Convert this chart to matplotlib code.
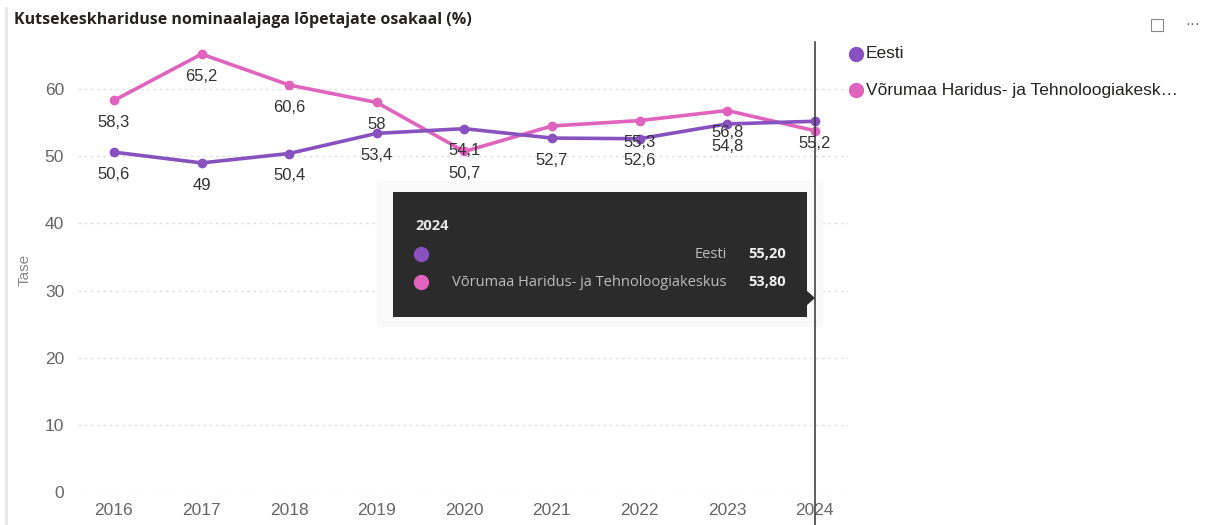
import matplotlib
matplotlib.use("Agg")
import matplotlib.pyplot as plt
from matplotlib.patches import FancyBboxPatch, Polygon, Rectangle
from matplotlib.lines import Line2D

years = ["2016", "2017", "2018", "2019", "2020", "2021", "2022", "2023", "2024"]
eesti = [50.6, 49.0, 50.4, 53.4, 54.1, 52.7, 52.6, 54.8, 55.2]
voru = [58.3, 65.2, 60.6, 58.0, 50.7, 54.5, 55.3, 56.8, 53.8]
eesti_labels = ["50,6", "49", "50,4", "53,4", "54,1", "52,7", "52,6", "54,8", "55,2"]
voru_labels = ["58,3", "65,2", "60,6", "58", "50,7", None, "55,3", "56,8", None]
series_names = ["Eesti", "Võrumaa Haridus- ja Tehnoloogiakeskus"]
legend_names = ["Eesti", "Võrumaa Haridus- ja Tehnoloogiakesk…"]
tooltip_values = ["55,20", "53,80"]
title = "Kutsekeskhariduse nominaalajaga lõpetajate osakaal (%)"

PURPLE = "#8752c0"
PINK = "#e064bd"
W, H = 1209, 525

plt.rcParams['font.family'] = ['Liberation Sans', 'DejaVu Sans']
fig = plt.figure(figsize=(W / 100, H / 100), dpi=100)

def fx(x):
    return x / W

def fy(y):
    return 1 - y / H

ax = fig.add_axes([fx(78), fy(492), fx(848) - fx(78), fy(40) - fy(492)])
x = list(range(len(years)))
ax.plot(x, voru, color=PINK, lw=2.6, marker="o", ms=6, zorder=3, solid_capstyle="round")
ax.plot(x, eesti, color=PURPLE, lw=2.6, marker="o", ms=6, zorder=4, solid_capstyle="round")

ax.set_xlim(-0.41, 8.38)
ax.set_ylim(0, 67.3)
ax.set_yticks(range(0, 61, 10))
ax.set_xticks(x)
ax.set_xticklabels(years)
ax.tick_params(axis="both", length=0, labelsize=12.5, labelcolor="#666666", pad=8)
ax.tick_params(axis="y", pad=10)
for s in ax.spines.values():
    s.set_visible(False)
ax.grid(axis="y", color="#dddddd", ls=(0, (2, 3)), lw=0.9)
ax.set_axisbelow(True)
fig.text(fx(25), fy(270), "Tase", rotation=90, fontsize=11, color="#888888",
         ha="center", va="center")

for i, lab in enumerate(eesti_labels):
    if lab:
        ax.annotate(lab, (i, eesti[i]), xytext=(0, -16), textcoords="offset points",
                    ha="center", va="center", fontsize=12, color="#333333", zorder=5)
for i, lab in enumerate(voru_labels):
    if lab:
        ax.annotate(lab, (i, voru[i]), xytext=(0, -16), textcoords="offset points",
                    ha="center", va="center", fontsize=12, color="#333333", zorder=5)

# title
fig.text(fx(14), fy(20), title, fontsize=11.5, fontweight="bold", color="#252423",
         ha="left", va="center", family=['Open Sans', 'DejaVu Sans'])
# left border
fig.add_artist(Line2D([fx(6), fx(6)], [fy(8), fy(525)], color="#e6e6e6", lw=2))

# icons
fig.add_artist(Rectangle((fx(1151), fy(31)), fx(12), fy(19) - fy(31), fill=False,
                         ec="#888888", lw=0.8))
fig.text(fx(1193), fy(24), "···", fontsize=11, color="#666666", ha="center", va="center")

# legend
for i, (name, col) in enumerate(zip(legend_names, [PURPLE, PINK])):
    yy = 54 + i * 36
    fig.add_artist(Line2D([fx(856)], [fy(yy)], marker="o", ms=10, color=col, lw=0))
    fig.text(fx(866), fy(yy), name, fontsize=12.5, color="#252423", ha="left", va="center")

# tooltip shadow
fig.add_artist(FancyBboxPatch((fx(384), fy(324)), fx(432), fy(184) - fy(324),
                              boxstyle="round,pad=0.006", fc="#f9f9f9", ec="none", zorder=7))
# vertical hover line (on top of shadow)
fig.add_artist(Line2D([fx(815), fx(815)], [fy(42), fy(525)], color="#333333", lw=1.1,
                      zorder=7.5))
# tooltip
fig.add_artist(Rectangle((fx(393), fy(317)), fx(414), fy(192) - fy(317),
                         fc="#2b2b2b", ec="none", zorder=8))
fig.add_artist(Polygon([(fx(806), fy(290)), (fx(815), fy(298)), (fx(806), fy(306))],
                       closed=True, fc="#2b2b2b", ec="none", zorder=8))
tfam = ['Open Sans', 'DejaVu Sans']
fig.text(fx(415), fy(226), years[-1], fontsize=10.5, fontweight="bold", color="#e6e6e6",
         ha="left", va="center", zorder=9, family=tfam)
for i, (name, col, val) in enumerate(zip(series_names, [PURPLE, PINK], tooltip_values)):
    yy = 254 + i * 28
    fig.add_artist(Line2D([fx(421)], [fy(yy)], marker="o", ms=10, color=col, lw=0, zorder=9))
    fig.text(fx(727), fy(yy), name, fontsize=10.5, color="#bdbdbd", ha="right", va="center",
             zorder=9, family=tfam)
    fig.text(fx(786), fy(yy), val, fontsize=10.5, fontweight="bold", color="#f0f0f0",
             ha="right", va="center", zorder=9, family=tfam)

fig.savefig("out.png", dpi=100)
